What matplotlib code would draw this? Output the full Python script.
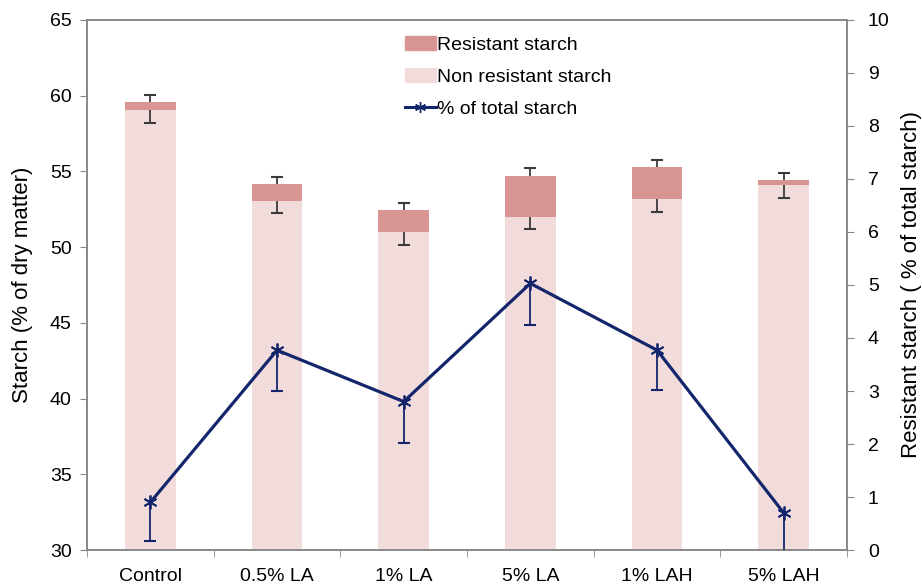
import numpy as np
import matplotlib.pyplot as plt
from matplotlib.patches import Patch
from matplotlib.lines import Line2D

plt.rcParams['font.family'] = ['Liberation Sans', 'DejaVu Sans']

groups = ['Control', '0.5% LA', '1% LA', '5% LA', '1% LAH', '5% LAH']
non_resistant = [59.06, 53.07, 50.98, 51.99, 53.18, 54.10]
resistant = [0.52, 1.10, 1.47, 2.71, 2.11, 0.33]
total_err_up = [0.47, 0.44, 0.44, 0.52, 0.46, 0.44]
nonres_err_down = [0.86, 0.80, 0.84, 0.82, 0.84, 0.84]

pct_total = [0.90, 3.77, 2.80, 5.03, 3.77, 0.70]
pct_err_down = [0.73, 0.77, 0.78, 0.78, 0.75, 0.80]

col_res = '#d99594'
col_nonres = '#f2dcdb'
col_line = '#14266b'
col_err = '#3a3a3a'


def one_sided_err(axis, xs, start, end, color, z):
    # stem from the bar/point value to the error end, cap only at the far end
    axis.vlines(xs, start, end, colors=color, linewidth=1.3, zorder=z)
    axis.plot(xs, end, linestyle='none', marker='_', markersize=8,
              markeredgewidth=1.5, color=color, zorder=z, clip_on=True)


fig = plt.figure(figsize=(9.22, 5.87), dpi=100)
ax = fig.add_axes([0.0944, 0.063, 0.8243, 0.903])
x = np.arange(len(groups))
base = 30
nonres = np.array(non_resistant)
tops = nonres + np.array(resistant)

ax.bar(x, nonres - base, 0.4, bottom=base, color=col_nonres, zorder=1)
ax.bar(x, resistant, 0.4, bottom=nonres, color=col_res, zorder=1)
one_sided_err(ax, x, nonres, nonres - np.array(nonres_err_down), col_err, 2)
one_sided_err(ax, x, tops, tops + np.array(total_err_up), col_err, 2)

ax.set_xlim(-0.5, len(groups) - 0.5)
ax.set_ylim(30, 65)
ax.set_yticks(range(30, 66, 5))
ax.set_xticks(x)
ax.set_xticklabels(groups)
ax.set_xticks(np.arange(-0.5, len(groups)), minor=True)
ax.tick_params(axis='x', which='major', length=0, labelsize=14, pad=13)
ax.tick_params(axis='x', which='minor', length=5, color='#888888')
ax.tick_params(axis='y', labelsize=14, length=5, color='#888888', pad=6)
ax.set_ylabel('Starch (% of dry matter)', fontsize=16, labelpad=12)
for s in ax.spines.values():
    s.set_color('#888888')
    s.set_linewidth(1.2)

ax2 = ax.twinx()
ax2.set_ylim(0, 10)
pct = np.array(pct_total)
one_sided_err(ax2, x, pct, pct - np.array(pct_err_down), col_line, 3)
ax2.plot(x, pct, color=col_line, linewidth=2.3, marker=(6, 2, 0),
         markersize=10, markeredgewidth=1.3, markeredgecolor=col_line, zorder=4)
ax2.set_yticks(range(0, 11))
ax2.tick_params(axis='y', labelsize=14, length=5, color='#888888', pad=10)
ax2.set_ylabel('Resistant starch ( % of total starch)', fontsize=16, labelpad=8)
for s in ax2.spines.values():
    s.set_color('#888888')
    s.set_linewidth(1.2)

handles = [Patch(color=col_res), Patch(color=col_nonres),
           Line2D([], [], color=col_line, linewidth=2.2, marker=(6, 2, 0),
                  markersize=8, markeredgewidth=1.0)]
labels = ['Resistant starch', 'Non resistant starch', '% of total starch']
ax2.legend(handles, labels, loc='upper left', bbox_to_anchor=(0.4, 0.995),
           frameon=False, fontsize=14, handlelength=1.6, handleheight=0.7,
           handletextpad=0.05, labelspacing=0.75, borderaxespad=0.3)

fig.savefig('out.png', dpi=100)
